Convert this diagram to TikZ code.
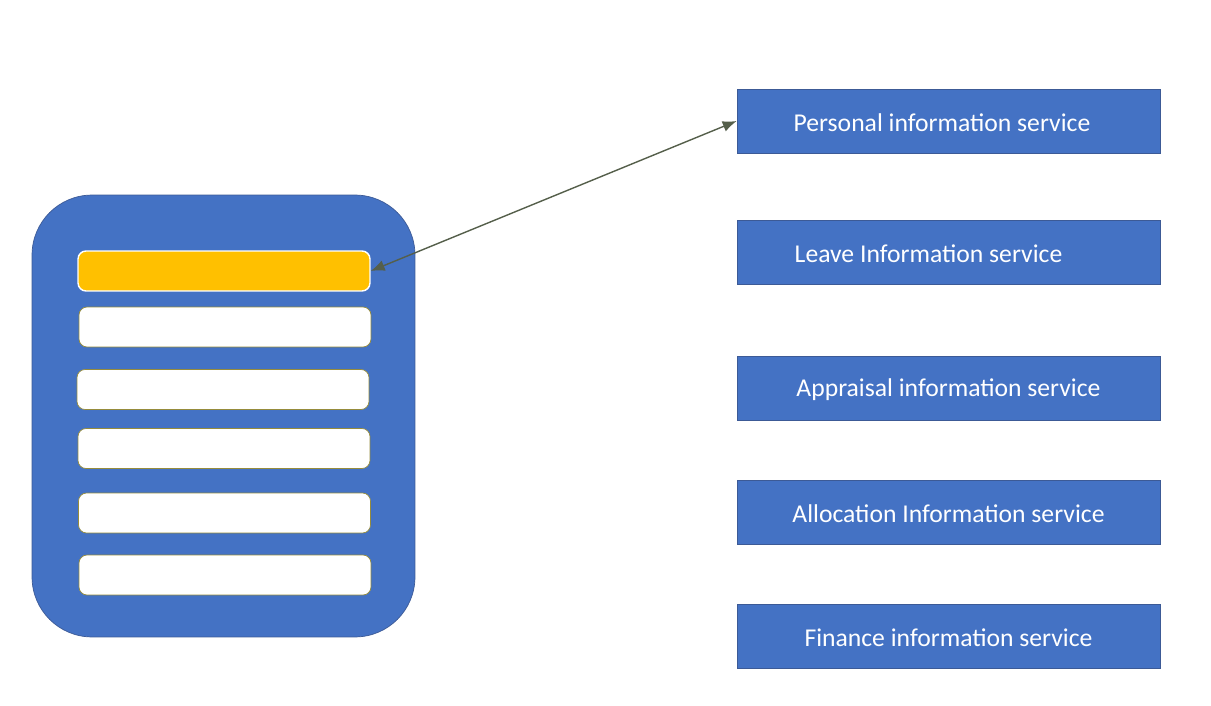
\documentclass[tikz,border=0pt]{standalone}
\usepackage{fontspec}
\setmainfont{Carlito}
\usepackage{tikz}
\usetikzlibrary{arrows.meta, positioning, shapes.geometric}

\definecolor{svcblue}{RGB}{68,114,196}
\definecolor{svcedge}{RGB}{60,90,150}
\definecolor{rowyellow}{RGB}{255,192,0}
\definecolor{rowedge}{RGB}{150,140,60}
\definecolor{linkgray}{RGB}{85,95,75}

\begin{document}
\begin{tikzpicture}[x=0.02cm, y=-0.02cm, font=\fontsize{14.6}{17}\selectfont]
    \useasboundingbox (0,0) rectangle (1211,706);
    % linker Block mit Zeilen
    \node[draw=svcedge, fill=svcblue, rectangle, rounded corners=1.2cm, minimum width=7.66cm, minimum height=8.84cm] (store) at (223.5,416) {};
    \node[draw=white, thick, rectangle, rounded corners=0.16cm, minimum width=5.84cm, minimum height=0.8cm, fill=rowyellow] (r1) at (224,271) {};
    \foreach \x/\y [count=\i from 2] in {225/327,223/389.5,224/448.5,224.5/513,225/575} {
        \node[draw=rowedge, rectangle, rounded corners=0.16cm, minimum width=5.84cm, minimum height=0.8cm, fill=white] (r\i) at (\x,\y) {};
    }
    % Dienste rechts
    \foreach \y/\txt [count=\i] in {121/{Personal information service\kern0.26cm},
                                    252/{Leave Information service\kern0.8cm},
                                    388/{Appraisal information service},
                                    512/{Allocation Information service},
                                    636/{Finance information service}} {
        \node[draw=svcedge, fill=svcblue, text=white, rectangle, minimum width=8.46cm, minimum height=1.28cm] (s\i) at (948.5,\y) {\raisebox{-0.04cm}[\height][\depth]{\txt}};
    }
    % Verbindung
    \draw[{Latex[length=0.28cm,width=0.22cm]}-{Latex[length=0.28cm,width=0.22cm]}, thick, linkgray] (r1.east) -- (s1.west);
\end{tikzpicture}
\end{document}
